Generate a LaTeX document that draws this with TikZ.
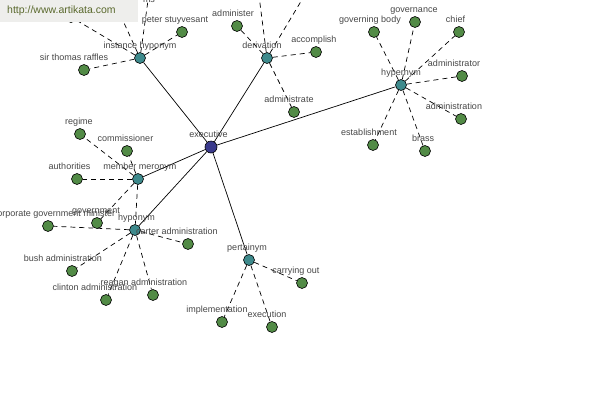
\documentclass[tikz,border=0pt]{standalone}
\usepackage{fontspec}
\setmainfont{Liberation Sans}
\usetikzlibrary{backgrounds}
\definecolor{leafgreen}{RGB}{82,139,70}
\definecolor{relteal}{RGB}{62,138,140}
\definecolor{execblue}{RGB}{58,58,140}
\definecolor{labelgray}{RGB}{70,70,70}
\definecolor{boxgray}{RGB}{238,238,236}
\definecolor{urlolive}{RGB}{90,105,45}
\tikzset{
  lbl/.style={font=\fontsize{9}{10}\selectfont, text=labelgray, inner sep=0pt, text height=6.5pt, text depth=1.9pt},
  every label/.style={lbl},
  label distance=1.5pt,
  dot/.style={circle, draw=black, line width=0.6pt, minimum size=11pt, inner sep=0pt},
  leaf/.style={dot, fill=leafgreen},
  rel/.style={dot, fill=relteal},
  hub/.style={dot, fill=execblue, minimum size=12pt},
  soliden/.style={line width=0.7pt},
  dashen/.style={line width=0.7pt, dash pattern=on 5pt off 4pt},
  urlbox/.style={anchor=north west, fill=boxgray, minimum width=138pt, minimum height=22pt,
    text width=124pt, inner xsep=7pt, align=left, text=urlolive, font=\fontsize{10.5}{12}\selectfont}
}
\begin{document}
\begin{tikzpicture}[x=1pt,y=-1pt]
\path[use as bounding box] (0,0) rectangle (600,400);
% hub and relation nodes
\node[hub, label={[xshift=-2.5pt]above:executive}] (exec) at (211,147) {};
\node[rel, label={above:instance hyponym}] (inst) at (140,58) {};
\node[rel, label={[xshift=-5pt]above:derivation}] (deriv) at (267,58) {};
\node[rel, label={above:hypernym}] (hyper) at (401,85) {};
\node[rel, label={[xshift=2pt]above:member meronym}] (mero) at (138,179) {};
\node[rel, label={[xshift=1.5pt]above:hyponym}] (hypo) at (135,230) {};
\node[rel, label={[xshift=-2pt]above:pertainym}] (pert) at (249,260) {};
% instance hyponym leaves
\node[leaf, label={[xshift=-10pt]above:sir thomas raffles}] (raffles) at (84,70) {};
\node[leaf, label={[xshift=-7pt]above:peter stuyvesant}] (stuy) at (182,32) {};
\node[leaf] (hidden) at (71,17) {};
\node[leaf] (upA) at (109,-10) {};
\node[leaf] (upB) at (150,-14) {};
\node[lbl] (mslbl) at (149,0) {ms};
% derivation leaves
\node[leaf, label={[xshift=-4pt]above:administer}] (administer) at (237,26) {};
\node[leaf, label={[xshift=-2pt]above:accomplish}] (accomplish) at (316,52) {};
\node[leaf, label={[xshift=-5pt]above:administrate}] (administrate) at (294,112) {};
\node[leaf] (dupA) at (258,-12) {};
\node[leaf] (dupB) at (309,-12) {};
% hypernym leaves
\node[leaf, label={[xshift=-4pt]above:governing body}] (govbody) at (374,32) {};
\node[leaf, label={[xshift=-1pt]above:governance}] (governance) at (415,22) {};
\node[leaf, label={[xshift=-3.5pt]above:chief}] (chief) at (459,32) {};
\node[leaf, label={[xshift=-8pt]above:administrator}] (admintor) at (462,76) {};
\node[leaf, label={[xshift=-7pt]above:administration}] (admintion) at (461,119) {};
\node[leaf, label={[xshift=-4pt]above:establishment}] (establish) at (373,145) {};
\node[leaf, label={[xshift=-2pt]above:brass}] (brass) at (425,151) {};
% member meronym leaves
\node[leaf, label={[xshift=-1pt]above:regime}] (regime) at (80,134) {};
\node[leaf, label={[xshift=-1.5pt]above:commissioner}] (commiss) at (127,151) {};
\node[leaf, label={[xshift=-7.5pt]above:authorities}] (authorities) at (77,179) {};
\node[leaf, label={[xshift=-1pt]above:government}] (government) at (97,223) {};
% hyponym leaves
\node[leaf, label={[xshift=6pt]above:corporate government minister}] (corpmin) at (48,226) {};
\node[leaf, label={[xshift=-11pt]above:carter administration}] (carter) at (188,244) {};
\node[leaf, label={[xshift=-9pt]above:bush administration}] (bush) at (72,271) {};
\node[leaf, label={[xshift=-11pt]above:clinton administration}] (clinton) at (106,300) {};
\node[leaf, label={[xshift=-9pt]above:reagan administration}] (reagan) at (153,295) {};
% pertainym leaves
\node[leaf, label={[xshift=-6pt]above:carrying out}] (carrying) at (302,283) {};
\node[leaf, label={[xshift=-5pt]above:implementation}] (implement) at (222,322) {};
\node[leaf, label={[xshift=-5pt]above:execution}] (execution) at (272,327) {};
% connectors
\begin{scope}[on background layer]
\foreach \t in {inst,deriv,hyper,mero,hypo,pert} \draw[soliden] (exec) -- (\t);
\foreach \t in {raffles,stuy,hidden,upA,upB} \draw[dashen] (inst) -- (\t);
\foreach \t in {administer,accomplish,administrate,dupA,dupB} \draw[dashen] (deriv) -- (\t);
\foreach \t in {govbody,governance,chief,admintor,admintion,establish,brass} \draw[dashen] (hyper) -- (\t);
\foreach \t in {regime,commiss,authorities,government,hypo} \draw[dashen] (mero) -- (\t);
\foreach \t in {corpmin,carter,bush,clinton,reagan} \draw[dashen] (hypo) -- (\t);
\foreach \t in {carrying,implement,execution} \draw[dashen] (pert) -- (\t);
\end{scope}
% url banner on top
\node[urlbox] (url) at (0,0) {http://www.artikata.com};
\end{tikzpicture}
\end{document}
